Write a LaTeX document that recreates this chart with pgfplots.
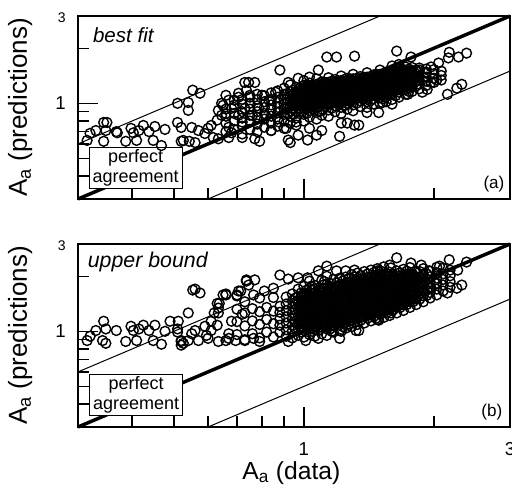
\documentclass[border=0pt]{standalone}
\usepackage{fontspec}
\setmainfont{Liberation Sans}
\usepackage{pgfplots}
\pgfplotsset{compat=1.18}

\begin{document}
\begin{tikzpicture}

% ---------- (a) best fit ----------
\begin{axis}[at={(58.5pt,215.25pt)}, anchor=south west,
    scale only axis, width=324pt, height=137.25pt,
    xmode=log, ymode=log, clip=false,
    xmin=0.3, xmax=3, ymin=0.3, ymax=3,
    xtick={1,3}, minor xtick={0.4,0.5,0.6,0.7,0.8,0.9,2},
    ytick={1,3}, minor ytick={0.4,0.5,0.6,0.7,0.8,0.9,2},
    xticklabels={}, yticklabels={},
    tick align=inside, tick pos=left,
    major tick length=15pt, minor tick length=8pt,
    tick style={black, line width=1pt},
    axis line style={line width=1.5pt},
    ylabel style={at={(axis description cs:-0.134,0.5)}, anchor=center},
    ylabel={\fontsize{19.5}{20}\selectfont A\textsubscript{a} (predictions)}]
\addplot[only marks, mark=o, mark size=3.7pt, mark options={line width=1.05pt, black}] coordinates {
(0.553,1.18)(0.575,1.135)(0.51,1.0)(0.54,1.01)(0.54,0.915)
(0.344,0.786)(0.33,0.71)(0.348,0.71)(0.32,0.685)(0.315,0.627)(0.344,0.62)
(0.368,0.70)(0.398,0.73)(0.403,0.69)(0.425,0.757)(0.415,0.71)(0.438,0.70)
(0.452,0.747)(0.477,0.72)(0.387,0.62)(0.41,0.627)(0.448,0.627)(0.468,0.588)
(0.51,0.786)(0.52,0.738)(0.55,0.738)(0.57,0.71)(0.526,0.627)(0.543,0.62)
(0.56,0.61)(0.52,0.62)(0.35,0.786)(0.37,0.69)
(0.59,0.684)(0.60,0.73)(0.61,0.757)(0.63,0.81)(0.634,0.915)(0.645,1.0)
(0.67,1.04)(0.69,0.95)(0.706,1.08)(0.73,1.30)(0.736,1.18)(0.66,0.88)
(0.68,0.69)(0.67,0.65)(0.617,0.65)
(0.634,0.64)(0.67,0.74)(0.645,0.86)(0.65,0.975)(0.68,0.94)(0.66,1.106)
(0.706,1.135)(0.69,1.04)(0.706,0.86)(0.73,0.94)(0.72,0.79)(0.76,0.86)
(0.75,1.106)(0.80,1.106)(0.786,0.94)(0.815,0.86)(0.83,1.04)(0.86,1.15)
(1.13,1.79)(1.19,1.79)(1.31,1.81)(1.08,1.52)(0.88,1.52)(0.745,1.30)
(0.77,1.30)(0.97,1.37)(1.03,1.39)(0.92,1.30)
(0.72,0.65)(0.77,0.64)(0.79,0.62)(0.92,0.63)(0.93,0.61)(0.97,0.67)
(1.02,0.63)(1.07,0.67)(1.10,0.71)(1.21,0.66)(1.22,0.78)(1.26,0.78)
(1.31,0.76)(1.40,0.89)(0.91,0.73)(0.875,0.79)(0.84,0.71)(0.96,0.79)(1.03,0.73)
(1.64,1.93)(1.77,1.79)(2.17,1.90)(2.16,1.77)(2.28,1.79)(2.38,1.88)
(2.05,1.66)(1.97,1.58)(1.92,1.48)(1.90,1.37)(1.97,1.30)(2.03,1.34)
(1.88,1.15)(1.93,1.19)(1.74,1.12)(2.15,1.12)(2.26,1.21)(2.32,1.27)
(1.60,0.99)(1.52,1.01)(1.49,0.89)(1.34,0.76)(1.78,1.42)(1.85,1.52)
(0.66,0.70)(0.66,0.78)(0.66,0.85)(0.66,0.93)
(0.69,0.72)(0.69,0.80)(0.69,0.88)(0.69,0.98)
(0.72,0.68)(0.72,0.75)(0.72,0.83)(0.72,0.90)(0.72,0.99)(0.72,1.05)
(0.75,0.72)(0.75,0.80)(0.75,0.86)(0.75,0.93)(0.75,1.00)(0.75,1.08)
(0.78,0.70)(0.78,0.77)(0.78,0.84)(0.78,0.90)(0.78,0.97)(0.78,1.05)(0.78,1.12)
(0.81,0.74)(0.81,0.82)(0.81,0.88)(0.81,0.95)(0.81,1.02)(0.81,1.10)
(0.84,0.71)(0.84,0.78)(0.84,0.85)(0.84,0.92)(0.84,0.98)(0.84,1.05)(0.84,1.14)
(0.87,0.75)(0.87,0.82)(0.87,0.89)(0.87,0.95)(0.87,1.01)(0.87,1.08)(0.87,1.17)
(0.90,0.73)(0.90,0.80)(0.90,0.87)(0.90,0.93)(0.90,0.99)(0.90,1.05)(0.90,1.12)(0.90,1.21)
(0.93,0.78)(0.93,0.85)(0.93,0.91)(0.93,0.97)(0.93,1.03)(0.93,1.09)(0.93,1.16)(0.93,1.26)
(0.96,0.76)(0.96,0.83)(0.96,0.90)(0.96,0.96)(0.96,1.02)(0.96,1.08)(0.96,1.14)(0.96,1.22)
(1.00,0.80)(1.00,0.87)(1.00,0.94)(1.00,1.00)(1.00,1.06)(1.00,1.12)(1.00,1.18)(1.00,1.25)(1.00,1.33)
(1.03,0.84)(1.03,0.91)(1.03,0.97)(1.03,1.03)(1.03,1.09)(1.03,1.15)(1.03,1.21)(1.03,1.29)
(1.07,0.82)(1.07,0.89)(1.07,0.96)(1.07,1.02)(1.07,1.08)(1.07,1.14)(1.07,1.20)(1.07,1.27)(1.07,1.36)
(1.10,0.86)(1.10,0.93)(1.10,1.00)(1.10,1.06)(1.10,1.12)(1.10,1.18)(1.10,1.24)(1.10,1.31)
(1.14,0.85)(1.14,0.92)(1.14,0.99)(1.14,1.05)(1.14,1.11)(1.14,1.17)(1.14,1.23)(1.14,1.30)(1.14,1.38)
(1.18,0.90)(1.18,0.97)(1.18,1.04)(1.18,1.10)(1.18,1.16)(1.18,1.22)(1.18,1.28)(1.18,1.35)
(1.22,0.88)(1.22,0.95)(1.22,1.02)(1.22,1.08)(1.22,1.14)(1.22,1.20)(1.22,1.26)(1.22,1.33)(1.22,1.41)
(1.26,0.93)(1.26,1.00)(1.26,1.06)(1.26,1.12)(1.26,1.18)(1.26,1.24)(1.26,1.30)(1.26,1.37)
(1.30,0.91)(1.30,0.98)(1.30,1.05)(1.30,1.11)(1.30,1.17)(1.30,1.23)(1.30,1.29)(1.30,1.36)(1.30,1.44)
(1.35,0.96)(1.35,1.03)(1.35,1.09)(1.35,1.15)(1.35,1.21)(1.35,1.27)(1.35,1.33)(1.35,1.40)
(1.40,0.95)(1.40,1.02)(1.40,1.08)(1.40,1.14)(1.40,1.20)(1.40,1.26)(1.40,1.32)(1.40,1.39)(1.40,1.47)
(1.45,0.99)(1.45,1.06)(1.45,1.12)(1.45,1.18)(1.45,1.24)(1.45,1.30)(1.45,1.36)(1.45,1.43)
(1.50,1.00)(1.50,1.07)(1.50,1.13)(1.50,1.19)(1.50,1.25)(1.50,1.31)(1.50,1.37)(1.50,1.44)(1.50,1.52)
(1.55,1.02)(1.55,1.09)(1.55,1.16)(1.55,1.22)(1.55,1.28)(1.55,1.34)(1.55,1.40)(1.55,1.48)
(1.60,1.05)(1.60,1.12)(1.60,1.18)(1.60,1.24)(1.60,1.30)(1.60,1.36)(1.60,1.43)(1.60,1.51)(1.60,1.60)
(1.66,1.08)(1.66,1.15)(1.66,1.21)(1.66,1.27)(1.66,1.33)(1.66,1.39)(1.66,1.46)(1.66,1.54)(1.66,1.63)
(1.72,1.12)(1.72,1.19)(1.72,1.25)(1.72,1.31)(1.72,1.37)(1.72,1.43)(1.72,1.50)(1.72,1.58)
(1.78,1.16)(1.78,1.23)(1.78,1.29)(1.78,1.35)(1.78,1.42)(1.78,1.49)(1.78,1.57)
(1.85,1.20)(1.85,1.27)(1.85,1.34)(1.85,1.41)(1.85,1.48)(1.85,1.56)
(1.92,1.25)(1.92,1.32)(1.92,1.39)(1.92,1.46)(1.92,1.54)
(2.00,1.30)(2.00,1.37)(2.00,1.45)(2.00,1.53)
(2.08,1.34)(2.08,1.42)(2.08,1.50)
(0.915,0.88)(0.915,0.94)(0.915,1.00)(0.915,1.06)(0.915,1.13)
(0.945,0.87)(0.945,0.93)(0.945,0.99)(0.945,1.05)(0.945,1.11)(0.945,1.18)
(0.98,0.90)(0.98,0.97)(0.98,1.03)(0.98,1.09)(0.98,1.15)(0.98,1.21)
(1.015,0.88)(1.015,0.94)(1.015,1.00)(1.015,1.06)(1.015,1.12)(1.015,1.18)(1.015,1.25)
(1.05,0.93)(1.05,0.99)(1.05,1.05)(1.05,1.11)(1.05,1.17)(1.05,1.23)
(1.085,0.90)(1.085,0.97)(1.085,1.03)(1.085,1.09)(1.085,1.15)(1.085,1.21)(1.085,1.28)
(1.12,0.96)(1.12,1.02)(1.12,1.08)(1.12,1.14)(1.12,1.20)(1.12,1.27)
(1.16,0.94)(1.16,1.01)(1.16,1.07)(1.16,1.13)(1.16,1.19)(1.16,1.25)(1.16,1.32)
(1.20,0.99)(1.20,1.05)(1.20,1.11)(1.20,1.17)(1.20,1.23)(1.20,1.30)
(1.24,0.97)(1.24,1.04)(1.24,1.10)(1.24,1.16)(1.24,1.22)(1.24,1.28)(1.24,1.35)
(1.28,1.02)(1.28,1.08)(1.28,1.14)(1.28,1.20)(1.28,1.26)(1.28,1.33)
(1.325,1.00)(1.325,1.06)(1.325,1.12)(1.325,1.18)(1.325,1.24)(1.325,1.30)(1.325,1.37)
(1.375,1.05)(1.375,1.11)(1.375,1.17)(1.375,1.23)(1.375,1.29)(1.375,1.36)
(1.425,1.03)(1.425,1.09)(1.425,1.15)(1.425,1.21)(1.425,1.27)(1.425,1.33)(1.425,1.40)
(1.475,1.09)(1.475,1.15)(1.475,1.21)(1.475,1.27)(1.475,1.34)(1.475,1.41)
(1.525,1.06)(1.525,1.12)(1.525,1.19)(1.525,1.25)(1.525,1.31)(1.525,1.37)(1.525,1.44)
(1.575,1.12)(1.575,1.18)(1.575,1.24)(1.575,1.30)(1.575,1.37)(1.575,1.44)
(1.63,1.10)(1.63,1.17)(1.63,1.24)(1.63,1.30)(1.63,1.36)(1.63,1.43)(1.63,1.50)
(1.69,1.18)(1.69,1.24)(1.69,1.30)(1.69,1.36)(1.69,1.42)(1.69,1.50)
(1.75,1.16)(1.75,1.22)(1.75,1.28)(1.75,1.34)(1.75,1.40)(1.75,1.47)(1.75,1.54)
(1.815,1.24)(1.815,1.31)(1.815,1.38)(1.815,1.45)(1.815,1.52)
(1.00,0.97)(1.00,1.03)(1.00,1.09)(1.00,1.15)(1.00,1.21)
(1.03,1.00)(1.03,1.06)(1.03,1.12)(1.03,1.18)(1.03,1.25)
(1.07,0.99)(1.07,1.05)(1.07,1.11)(1.07,1.17)(1.07,1.23)
(1.10,1.03)(1.10,1.09)(1.10,1.15)(1.10,1.21)(1.10,1.27)
(1.14,1.02)(1.14,1.08)(1.14,1.14)(1.14,1.20)(1.14,1.26)
(1.18,1.07)(1.18,1.13)(1.18,1.19)(1.18,1.25)(1.18,1.31)
(1.22,1.05)(1.22,1.11)(1.22,1.17)(1.22,1.23)(1.22,1.29)
(1.26,1.09)(1.26,1.15)(1.26,1.21)(1.26,1.27)(1.26,1.33)
(1.30,1.08)(1.30,1.14)(1.30,1.20)(1.30,1.26)(1.30,1.32)
(1.35,1.12)(1.35,1.18)(1.35,1.24)(1.35,1.30)(1.35,1.36)
(1.40,1.11)(1.40,1.17)(1.40,1.23)(1.40,1.29)(1.40,1.35)
(1.45,1.15)(1.45,1.21)(1.45,1.27)(1.45,1.33)(1.45,1.39)
(1.50,1.16)(1.50,1.22)(1.50,1.28)(1.50,1.34)(1.50,1.40)
(1.55,1.19)(1.55,1.25)(1.55,1.31)(1.55,1.37)(1.55,1.44)
(1.60,1.21)(1.60,1.27)(1.60,1.33)(1.60,1.39)(1.60,1.47)
(1.66,1.24)(1.66,1.30)(1.66,1.36)(1.66,1.42)(1.66,1.50)
(1.72,1.28)(1.72,1.34)(1.72,1.40)(1.72,1.46)
(0.98,0.94)(0.98,1.00)(0.98,1.06)(0.98,1.12)(0.98,1.18)
(1.015,0.97)(1.015,1.03)(1.015,1.09)(1.015,1.15)(1.015,1.21)
(1.05,0.96)(1.05,1.02)(1.05,1.08)(1.05,1.14)(1.05,1.20)(1.05,1.26)
(1.085,1.00)(1.085,1.06)(1.085,1.12)(1.085,1.18)(1.085,1.24)
(1.12,0.99)(1.12,1.05)(1.12,1.11)(1.12,1.17)(1.12,1.23)(1.12,1.30)
(1.16,1.04)(1.16,1.10)(1.16,1.16)(1.16,1.22)(1.16,1.28)
(1.20,1.02)(1.20,1.08)(1.20,1.14)(1.20,1.20)(1.20,1.26)(1.20,1.33)
(1.24,1.07)(1.24,1.13)(1.24,1.19)(1.24,1.25)(1.24,1.31)
(1.28,1.05)(1.28,1.11)(1.28,1.17)(1.28,1.23)(1.28,1.29)(1.28,1.36)
(1.325,1.09)(1.325,1.15)(1.325,1.21)(1.325,1.27)(1.325,1.33)
(1.375,1.08)(1.375,1.14)(1.375,1.20)(1.375,1.26)(1.375,1.32)(1.375,1.39)
(1.425,1.12)(1.425,1.18)(1.425,1.24)(1.425,1.30)(1.425,1.36)
(1.475,1.12)(1.475,1.18)(1.475,1.24)(1.475,1.30)(1.475,1.37)(1.475,1.44)
(1.525,1.16)(1.525,1.22)(1.525,1.28)(1.525,1.34)(1.525,1.40)
(1.575,1.15)(1.575,1.21)(1.575,1.27)(1.575,1.33)(1.575,1.40)(1.575,1.47)
(1.63,1.20)(1.63,1.27)(1.63,1.33)(1.63,1.39)(1.63,1.46)
(1.69,1.21)(1.69,1.27)(1.69,1.33)(1.69,1.39)(1.69,1.46)(1.69,1.53)
(1.75,1.25)(1.75,1.31)(1.75,1.37)(1.75,1.43)(1.75,1.50)
};
\addplot[black, line width=0.75pt] coordinates {(0.3,0.6)(1.5,3)};
\addplot[black, line width=0.75pt] coordinates {(0.6,0.3)(3,1.5)};
\addplot[black, line width=2.6pt] coordinates {(0.3,0.3)(3,3)};
\node[draw, fill=white, line width=0.75pt, align=center, inner xsep=2.5pt,
  inner ysep=1.5pt, font=\fontsize{13.5}{15}\selectfont]
  at (axis cs:0.408,0.442) {perfect\\agreement};
\node[anchor=west, font=\fontsize{15.4}{16}\selectfont\itshape]
  at (rel axis cs:0.024,0.896) {best fit};
\node[anchor=east, font=\fontsize{12.8}{13}\selectfont]
  at (rel axis cs:0.998,0.082) {(a)};
% tick labels
\node[anchor=east, inner sep=0pt, font=\fontsize{14}{14}\selectfont]
  at ([xshift=-9pt]axis cs:0.3,1) {1};
\node[anchor=east, inner sep=0pt, font=\fontsize{10.5}{11}\selectfont]
  at ([xshift=-9pt,yshift=-1.5pt]axis cs:0.3,3) {3};
\end{axis}

% ---------- (b) upper bound ----------
\begin{axis}[at={(58.5pt,44.25pt)}, anchor=south west,
    scale only axis, width=324pt, height=137.25pt,
    xmode=log, ymode=log, clip=false,
    xmin=0.3, xmax=3, ymin=0.3, ymax=3,
    xtick={1,3}, minor xtick={0.4,0.5,0.6,0.7,0.8,0.9,2},
    ytick={1,3}, minor ytick={0.4,0.5,0.6,0.7,0.8,0.9,2},
    xticklabels={}, yticklabels={},
    tick align=inside, tick pos=left,
    major tick length=15pt, minor tick length=8pt,
    tick style={black, line width=1pt},
    axis line style={line width=1.5pt},
    ylabel style={at={(axis description cs:-0.134,0.5)}, anchor=center},
    ylabel={\fontsize{19.5}{20}\selectfont A\textsubscript{a} (predictions)},
    xlabel style={at={(axis description cs:0.494,0)}, anchor=center, yshift=-34.5pt},
    xlabel={\fontsize{18.5}{19}\selectfont A\textsubscript{a} (data)}]
\addplot[only marks, mark=o, mark size=3.7pt, mark options={line width=1.05pt, black}] coordinates {
(0.553,1.68)(0.575,1.62)(0.54,1.26)(0.512,1.135)(0.344,1.135)(0.33,1.01)
(0.348,1.03)(0.32,0.94)(0.315,0.89)(0.342,0.89)(0.348,0.86)(0.368,1.01)
(0.398,1.065)(0.403,1.01)(0.425,1.08)(0.415,1.03)(0.438,1.01)(0.452,1.08)
(0.477,1.0)(0.387,0.88)(0.41,0.89)(0.448,0.89)(0.468,0.85)(0.51,0.99)
(0.52,0.89)(0.526,0.86)(0.52,0.84)(0.55,0.97)(0.56,1.01)(0.54,0.89)
(0.57,0.89)(0.595,0.95)(0.61,1.01)(0.63,1.08)(0.634,1.34)(0.637,1.42)
(0.65,1.58)(0.62,1.26)
(0.49,1.135)(0.51,1.03)(0.52,0.88)(0.56,1.70)(0.59,1.065)(0.61,1.135)
(0.634,1.26)(0.63,1.42)(0.66,1.60)(0.70,1.56)(0.706,1.66)(0.67,0.915)
(0.634,0.88)(0.60,0.915)(0.68,1.135)(0.72,1.24)(0.736,1.88)
(0.736,1.91)(0.77,1.91)(0.745,1.79)(0.88,2.03)(0.92,1.93)(0.97,1.96)
(1.02,1.96)(1.13,2.27)(1.19,2.14)(1.25,2.14)(1.31,2.16)(1.08,2.14)
(0.66,1.58)(0.70,1.58)(0.714,1.66)(0.765,1.58)(0.81,1.66)(0.85,1.72)
(0.66,0.89)(0.67,0.97)(0.695,0.89)(0.73,0.89)(0.765,0.915)(0.79,0.88)
(0.92,0.88)(1.01,0.89)(1.08,0.915)(1.16,1.0)(1.22,1.0)(1.21,0.915)
(1.32,1.01)(1.40,1.22)
(1.64,2.52)(2.17,2.46)(2.38,2.39)(2.27,2.16)(2.15,1.62)(2.26,1.72)
(2.32,1.79)(2.03,1.83)(1.97,1.72)(1.90,1.66)(1.755,1.58)(2.06,2.27)
(1.95,2.14)(1.87,2.30)(1.77,2.36)(1.53,1.39)(1.40,1.26)(1.47,1.18)
(1.49,1.15)(1.59,1.26)(1.60,1.30)(1.34,1.01)(1.48,2.14)(1.59,2.22)
(0.70,0.96)(0.70,1.13)(0.70,1.32)
(0.73,0.90)(0.73,1.07)(0.73,1.26)(0.73,1.45)
(0.76,0.97)(0.76,1.14)(0.76,1.33)
(0.79,0.92)(0.79,1.09)(0.79,1.28)(0.79,1.52)
(0.82,0.99)(0.82,1.16)(0.82,1.35)
(0.85,0.93)(0.85,1.10)(0.85,1.29)(0.85,1.53)
(0.88,0.99)(0.88,1.08)(0.88,1.17)(0.88,1.27)(0.88,1.37)
(0.91,0.94)(0.91,1.02)(0.91,1.11)(0.91,1.20)(0.91,1.30)(0.91,1.41)(0.91,1.54)
(0.94,0.92)(0.94,1.00)(0.94,1.08)(0.94,1.17)(0.94,1.26)(0.94,1.36)(0.94,1.47)(0.94,1.60)
(0.97,0.95)(0.97,1.03)(0.97,1.12)(0.97,1.21)(0.97,1.31)(0.97,1.42)(0.97,1.55)(0.97,1.70)
(1.00,0.93)(1.00,1.01)(1.00,1.09)(1.00,1.18)(1.00,1.27)(1.00,1.37)(1.00,1.48)(1.00,1.61)(1.00,1.76)
(1.03,0.96)(1.03,1.04)(1.03,1.13)(1.03,1.22)(1.03,1.32)(1.03,1.43)(1.03,1.56)(1.03,1.71)(1.03,1.88)
(1.06,0.94)(1.06,1.02)(1.06,1.10)(1.06,1.19)(1.06,1.28)(1.06,1.38)(1.06,1.49)(1.06,1.62)(1.06,1.78)
(1.10,0.97)(1.10,1.05)(1.10,1.14)(1.10,1.23)(1.10,1.33)(1.10,1.44)(1.10,1.57)(1.10,1.72)(1.10,1.90)
(1.13,0.95)(1.13,1.03)(1.13,1.11)(1.13,1.20)(1.13,1.30)(1.13,1.40)(1.13,1.51)(1.13,1.64)(1.13,1.80)(1.13,2.00)
(1.17,0.99)(1.17,1.07)(1.17,1.16)(1.17,1.25)(1.17,1.35)(1.17,1.46)(1.17,1.59)(1.17,1.74)(1.17,1.92)
(1.21,1.01)(1.21,1.09)(1.21,1.18)(1.21,1.28)(1.21,1.38)(1.21,1.49)(1.21,1.62)(1.21,1.77)(1.21,1.95)
(1.25,1.04)(1.25,1.12)(1.25,1.21)(1.25,1.31)(1.25,1.41)(1.25,1.52)(1.25,1.65)(1.25,1.80)(1.25,1.98)
(1.29,1.06)(1.29,1.15)(1.29,1.24)(1.29,1.34)(1.29,1.44)(1.29,1.56)(1.29,1.69)(1.29,1.85)(1.29,2.04)
(1.33,1.09)(1.33,1.18)(1.33,1.27)(1.33,1.37)(1.33,1.48)(1.33,1.60)(1.33,1.73)(1.33,1.89)(1.33,2.08)
(1.38,1.11)(1.38,1.20)(1.38,1.30)(1.38,1.40)(1.38,1.51)(1.38,1.63)(1.38,1.77)(1.38,1.93)(1.38,2.12)
(1.43,1.14)(1.43,1.23)(1.43,1.33)(1.43,1.43)(1.43,1.54)(1.43,1.66)(1.43,1.80)(1.43,1.97)(1.43,2.16)
(1.48,1.16)(1.48,1.26)(1.48,1.36)(1.48,1.46)(1.48,1.57)(1.48,1.70)(1.48,1.84)(1.48,2.01)(1.48,2.20)
(1.53,1.19)(1.53,1.29)(1.53,1.39)(1.53,1.50)(1.53,1.61)(1.53,1.74)(1.53,1.88)(1.53,2.05)(1.53,2.25)
(1.58,1.22)(1.58,1.32)(1.58,1.42)(1.58,1.53)(1.58,1.65)(1.58,1.78)(1.58,1.93)(1.58,2.10)(1.58,2.30)
(1.64,1.26)(1.64,1.36)(1.64,1.46)(1.64,1.57)(1.64,1.69)(1.64,1.82)(1.64,1.97)(1.64,2.14)
(1.70,1.30)(1.70,1.40)(1.70,1.50)(1.70,1.61)(1.70,1.73)(1.70,1.86)(1.70,2.01)(1.70,2.18)
(1.76,1.35)(1.76,1.45)(1.76,1.55)(1.76,1.66)(1.76,1.78)(1.76,1.91)(1.76,2.06)(1.76,2.23)
(1.82,1.40)(1.82,1.50)(1.82,1.61)(1.82,1.72)(1.82,1.84)(1.82,1.97)(1.82,2.12)
(1.89,1.45)(1.89,1.56)(1.89,1.67)(1.89,1.79)(1.89,1.91)(1.89,2.05)(1.89,2.20)
(1.96,1.52)(1.96,1.63)(1.96,1.74)(1.96,1.86)(1.96,1.99)(1.96,2.13)
(2.03,1.58)(2.03,1.70)(2.03,1.82)(2.03,1.95)(2.03,2.09)(2.03,2.24)
(2.10,1.66)(2.10,1.79)(2.10,1.92)(2.10,2.06)(2.10,2.21)
(2.18,1.74)(2.18,1.87)(2.18,2.01)(2.18,2.16)
(0.955,1.04)(0.955,1.13)(0.955,1.22)(0.955,1.31)(0.955,1.41)(0.955,1.52)
(0.985,0.99)(0.985,1.07)(0.985,1.16)(0.985,1.26)(0.985,1.36)(0.985,1.48)(0.985,1.62)
(1.015,1.05)(1.015,1.13)(1.015,1.22)(1.015,1.32)(1.015,1.43)(1.015,1.55)(1.015,1.68)
(1.045,1.00)(1.045,1.08)(1.045,1.17)(1.045,1.27)(1.045,1.37)(1.045,1.48)(1.045,1.61)(1.045,1.75)
(1.08,1.01)(1.08,1.10)(1.08,1.19)(1.08,1.29)(1.08,1.39)(1.08,1.51)(1.08,1.65)
(1.115,1.07)(1.115,1.16)(1.115,1.25)(1.115,1.35)(1.115,1.46)(1.115,1.58)(1.115,1.72)(1.115,1.87)
(1.15,1.03)(1.15,1.11)(1.15,1.20)(1.15,1.30)(1.15,1.41)(1.15,1.53)(1.15,1.67)(1.15,1.83)
(1.19,1.12)(1.19,1.21)(1.19,1.31)(1.19,1.42)(1.19,1.54)(1.19,1.68)(1.19,1.84)
(1.23,1.06)(1.23,1.14)(1.23,1.24)(1.23,1.34)(1.23,1.45)(1.23,1.58)(1.23,1.72)(1.23,1.88)
(1.27,1.10)(1.27,1.19)(1.27,1.29)(1.27,1.39)(1.27,1.50)(1.27,1.62)(1.27,1.77)(1.27,1.94)
(1.31,1.13)(1.31,1.22)(1.31,1.32)(1.31,1.42)(1.31,1.53)(1.31,1.66)(1.31,1.81)(1.31,1.98)
(1.355,1.15)(1.355,1.24)(1.355,1.34)(1.355,1.45)(1.355,1.57)(1.355,1.70)(1.355,1.85)(1.355,2.02)
(1.405,1.18)(1.405,1.27)(1.405,1.37)(1.405,1.48)(1.405,1.60)(1.405,1.73)(1.405,1.88)(1.405,2.06)
(1.455,1.21)(1.455,1.31)(1.455,1.41)(1.455,1.52)(1.455,1.64)(1.455,1.77)(1.455,1.92)(1.455,2.10)
(1.505,1.24)(1.505,1.34)(1.505,1.44)(1.505,1.55)(1.505,1.67)(1.505,1.81)(1.505,1.96)(1.505,2.14)
(1.555,1.27)(1.555,1.37)(1.555,1.47)(1.555,1.59)(1.555,1.71)(1.555,1.85)(1.555,2.01)
(1.61,1.31)(1.61,1.41)(1.61,1.52)(1.61,1.63)(1.61,1.75)(1.61,1.89)(1.61,2.05)
(1.67,1.35)(1.67,1.45)(1.67,1.56)(1.67,1.67)(1.67,1.79)(1.67,1.93)(1.67,2.09)
(1.73,1.40)(1.73,1.50)(1.73,1.61)(1.73,1.72)(1.73,1.84)(1.73,1.98)(1.73,2.13)
(1.79,1.45)(1.79,1.55)(1.79,1.66)(1.79,1.78)(1.79,1.90)(1.79,2.04)
(1.855,1.50)(1.855,1.61)(1.855,1.73)(1.855,1.85)(1.855,1.98)(1.855,2.12)
(1.925,1.57)(1.925,1.68)(1.925,1.80)(1.925,1.93)(1.925,2.06)
(1.00,1.05)(1.00,1.13)(1.00,1.22)(1.00,1.32)(1.00,1.42)(1.00,1.54)
(1.03,1.08)(1.03,1.17)(1.03,1.27)(1.03,1.37)(1.03,1.49)(1.03,1.63)
(1.06,1.06)(1.06,1.14)(1.06,1.23)(1.06,1.33)(1.06,1.43)(1.06,1.55)(1.06,1.70)
(1.10,1.09)(1.10,1.18)(1.10,1.28)(1.10,1.38)(1.10,1.50)(1.10,1.64)
(1.13,1.07)(1.13,1.15)(1.13,1.25)(1.13,1.35)(1.13,1.45)(1.13,1.57)(1.13,1.72)
(1.17,1.11)(1.17,1.20)(1.17,1.30)(1.17,1.40)(1.17,1.52)(1.17,1.66)
(1.21,1.13)(1.21,1.23)(1.21,1.33)(1.21,1.43)(1.21,1.55)(1.21,1.69)
(1.25,1.16)(1.25,1.26)(1.25,1.36)(1.25,1.46)(1.25,1.58)(1.25,1.72)
(1.29,1.19)(1.29,1.29)(1.29,1.39)(1.29,1.50)(1.29,1.62)(1.29,1.77)
(1.33,1.22)(1.33,1.32)(1.33,1.42)(1.33,1.54)(1.33,1.66)(1.33,1.81)
(1.38,1.25)(1.38,1.35)(1.38,1.45)(1.38,1.57)(1.38,1.70)(1.38,1.85)
(1.43,1.28)(1.43,1.38)(1.43,1.48)(1.43,1.60)(1.43,1.73)(1.43,1.88)
(1.48,1.31)(1.48,1.41)(1.48,1.51)(1.48,1.63)(1.48,1.77)(1.48,1.92)
(1.53,1.34)(1.53,1.44)(1.53,1.55)(1.53,1.67)(1.53,1.81)(1.53,1.96)
(1.58,1.37)(1.58,1.47)(1.58,1.59)(1.58,1.71)(1.58,1.85)(1.58,2.01)
(1.64,1.41)(1.64,1.51)(1.64,1.63)(1.64,1.75)(1.64,1.89)
(1.70,1.45)(1.70,1.55)(1.70,1.67)(1.70,1.79)(1.70,1.93)
(1.76,1.50)(1.76,1.60)(1.76,1.72)(1.76,1.84)(1.76,1.98)
(0.985,1.03)(0.985,1.11)(0.985,1.21)(0.985,1.31)(0.985,1.42)(0.985,1.55)
(1.015,1.09)(1.015,1.17)(1.015,1.27)(1.015,1.37)(1.015,1.49)(1.015,1.61)
(1.045,1.04)(1.045,1.12)(1.045,1.22)(1.045,1.32)(1.045,1.42)(1.045,1.54)(1.045,1.68)
(1.08,1.05)(1.08,1.14)(1.08,1.24)(1.08,1.34)(1.08,1.45)(1.08,1.58)(1.08,1.72)
(1.115,1.11)(1.115,1.20)(1.115,1.30)(1.115,1.40)(1.115,1.52)(1.115,1.65)(1.115,1.80)
(1.15,1.07)(1.15,1.15)(1.15,1.25)(1.15,1.35)(1.15,1.47)(1.15,1.60)(1.15,1.75)
(1.19,1.16)(1.19,1.26)(1.19,1.36)(1.19,1.48)(1.19,1.61)(1.19,1.76)
(1.23,1.10)(1.23,1.19)(1.23,1.29)(1.23,1.39)(1.23,1.51)(1.23,1.65)(1.23,1.80)
(1.27,1.14)(1.27,1.24)(1.27,1.34)(1.27,1.44)(1.27,1.56)(1.27,1.69)(1.27,1.85)
(1.31,1.17)(1.31,1.27)(1.31,1.37)(1.31,1.47)(1.31,1.59)(1.31,1.73)(1.31,1.89)
(1.355,1.19)(1.355,1.29)(1.355,1.39)(1.355,1.51)(1.355,1.63)(1.355,1.77)(1.355,1.93)
(1.405,1.22)(1.405,1.32)(1.405,1.42)(1.405,1.54)(1.405,1.66)(1.405,1.80)(1.405,1.97)
(1.455,1.26)(1.455,1.36)(1.455,1.46)(1.455,1.58)(1.455,1.70)(1.455,1.84)(1.455,2.01)
(1.505,1.29)(1.505,1.39)(1.505,1.49)(1.505,1.61)(1.505,1.74)(1.505,1.88)(1.505,2.05)
(1.555,1.32)(1.555,1.42)(1.555,1.53)(1.555,1.65)(1.555,1.78)(1.555,1.93)
(1.61,1.36)(1.61,1.46)(1.61,1.57)(1.61,1.69)(1.61,1.82)(1.61,1.97)
(1.67,1.40)(1.67,1.50)(1.67,1.61)(1.67,1.73)(1.67,1.86)(1.67,2.01)
(1.73,1.45)(1.73,1.55)(1.73,1.66)(1.73,1.78)(1.73,1.91)(1.73,2.05)
(1.79,1.50)(1.79,1.60)(1.79,1.72)(1.79,1.84)(1.79,1.97)
};
\addplot[black, line width=0.75pt] coordinates {(0.3,0.6)(1.5,3)};
\addplot[black, line width=0.75pt] coordinates {(0.6,0.3)(3,1.5)};
\addplot[black, line width=2.6pt] coordinates {(0.3,0.3)(3,3)};
\node[draw, fill=white, line width=0.75pt, align=center, inner xsep=2.5pt,
  inner ysep=1.5pt, font=\fontsize{13.5}{15}\selectfont]
  at (axis cs:0.409,0.448) {perfect\\agreement};
\node[anchor=west, font=\fontsize{16}{17}\selectfont\itshape]
  at (rel axis cs:0.012,0.90) {upper bound};
\node[anchor=east, font=\fontsize{12.8}{13}\selectfont]
  at (rel axis cs:0.993,0.084) {(b)};
% tick labels
\node[anchor=east, inner sep=0pt, font=\fontsize{14}{14}\selectfont]
  at ([xshift=-9pt]axis cs:0.3,1) {1};
\node[anchor=east, inner sep=0pt, font=\fontsize{10.5}{11}\selectfont]
  at ([xshift=-9pt,yshift=-1.5pt]axis cs:0.3,3) {3};
\node[anchor=center, inner sep=0pt, font=\fontsize{14}{14}\selectfont]
  at ([yshift=-16.5pt]axis cs:1,0.3) {1};
\node[anchor=center, inner sep=0pt, font=\fontsize{14}{14}\selectfont]
  at ([yshift=-16.5pt]axis cs:3,0.3) {3};
\end{axis}

\pgfresetboundingbox
\path[use as bounding box] (0pt,0pt) rectangle (384pt,364.5pt);
\end{tikzpicture}
\end{document}
